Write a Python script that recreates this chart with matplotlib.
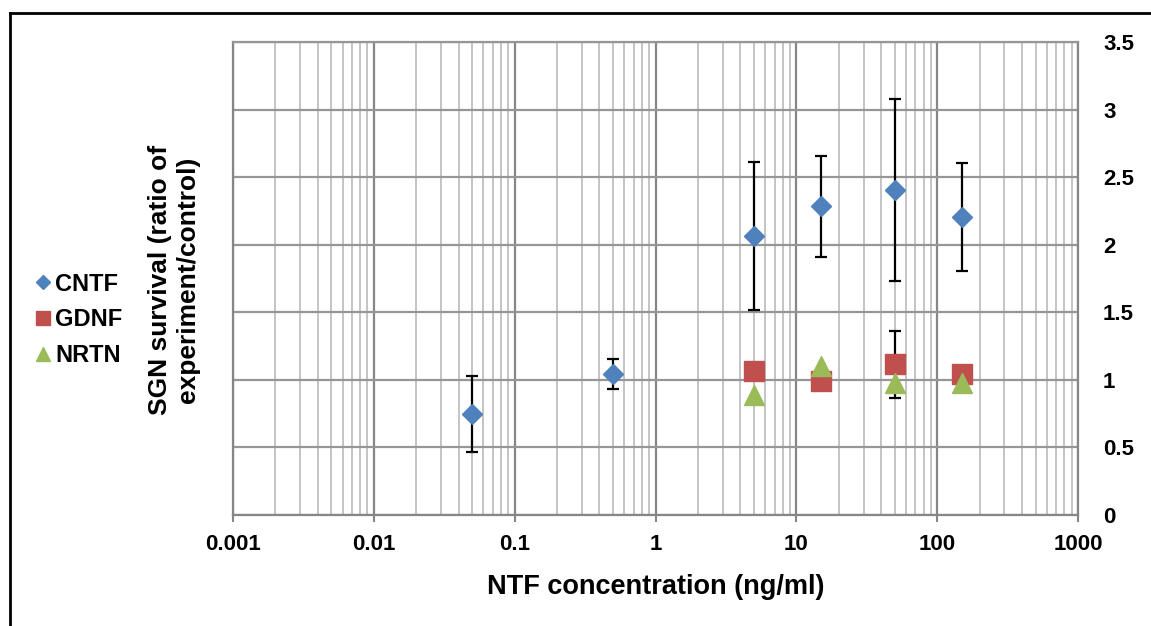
import numpy as np
from matplotlib import pyplot as plt
import matplotlib.ticker as mticker
from matplotlib.lines import Line2D

plt.rcParams['font.family'] = ['Liberation Sans', 'DejaVu Sans']
plt.rcParams['font.weight'] = 'bold'

# CNTF
x_cntf = [0.05, 0.5, 5, 15, 50, 150]
y_cntf = [0.745, 1.045, 2.065, 2.285, 2.405, 2.205]
e_cntf = [0.28, 0.11, 0.55, 0.375, 0.67, 0.40]
# GDNF
x_gdnf = [5, 15, 50, 150]
y_gdnf = [1.065, 0.99, 1.115, 1.045]
e_gdnf = [0, 0, 0.25, 0]
# NRTN
x_nrtn = [5, 15, 50, 150]
y_nrtn = [0.89, 1.105, 0.975, 0.975]

c_blue = '#4F81BD'
c_red = '#C0504D'
c_green = '#9BBB59'

fig = plt.figure(figsize=(11.51, 6.26), dpi=100)
ax = fig.add_axes([233/1151, 1-515/626, 845/1151, 473/626])

ax.set_xscale('log')
ax.set_xlim(0.001, 1000)
ax.set_ylim(0, 3.5)

# error bars under the markers
ax.errorbar(x_cntf, y_cntf, yerr=e_cntf, fmt='none', ecolor='black',
            elinewidth=1.6, capsize=4.5, capthick=1.6, zorder=3)
gx = [x for x, e in zip(x_gdnf, e_gdnf) if e > 0]
gy = [y for y, e in zip(y_gdnf, e_gdnf) if e > 0]
ge = [e for e in e_gdnf if e > 0]
ax.errorbar(gx, gy, yerr=ge, fmt='none', ecolor='black',
            elinewidth=1.6, capsize=4.5, capthick=1.6, zorder=3)

l1, = ax.plot(x_cntf, y_cntf, ls='none', marker='D', ms=10.2,
              color=c_blue, mec=c_blue, zorder=4, label='CNTF')
l2, = ax.plot(x_gdnf, y_gdnf, ls='none', marker='s', ms=14.4,
              color=c_red, mec=c_red, zorder=5, label='GDNF')
l3, = ax.plot(x_nrtn, y_nrtn, ls='none', marker='^', ms=14.4,
              color=c_green, mec=c_green, zorder=6, label='NRTN')

# grid
ax.xaxis.set_major_locator(mticker.LogLocator(base=10, numticks=10))
ax.xaxis.set_minor_locator(mticker.LogLocator(base=10, subs=np.arange(2, 10), numticks=20))
ax.xaxis.set_minor_formatter(mticker.NullFormatter())
ax.xaxis.set_major_formatter(mticker.FuncFormatter(lambda v, p: ('%g' % v)))
ax.yaxis.set_major_locator(mticker.MultipleLocator(0.5))
ax.yaxis.set_major_formatter(mticker.FuncFormatter(lambda v, p: ('%g' % v)))
ax.grid(which='major', axis='x', color='#868686', lw=1.6, zorder=0)
ax.grid(which='minor', axis='x', color='#bfbfbf', lw=1.3, zorder=0)
ax.grid(which='major', axis='y', color='#969696', lw=1.6, zorder=0)
ax.set_axisbelow(True)

for s in ax.spines.values():
    s.set_color('#868686')
    s.set_linewidth(1.6)
ax.spines['top'].set_color('#969696')

ax.yaxis.tick_right()
ax.tick_params(axis='y', which='both', length=0, pad=18, labelsize=16)
ax.tick_params(axis='x', which='major', length=5, width=1.5, color='#868686',
               pad=9, labelsize=16)
ax.tick_params(axis='x', which='minor', length=0)
for lab in ax.get_xticklabels() + ax.get_yticklabels():
    lab.set_fontweight('bold')

ax.set_xlabel('NTF concentration (ng/ml)', fontsize=19.5, fontweight='bold', labelpad=13)

fig.text(174/1151, 1-280/626, 'SGN survival (ratio of\nexperiment/control)',
         rotation=90, ha='center', va='center', multialignment='center',
         fontsize=19, fontweight='bold', linespacing=1.2)

h1 = Line2D([], [], ls='none', marker='D', ms=7.6, color=c_blue)
h2 = Line2D([], [], ls='none', marker='s', ms=10.5, color=c_red)
h3 = Line2D([], [], ls='none', marker='^', ms=10.5, color=c_green)
fig.legend([h1, h2, h3], ['CNTF', 'GDNF', 'NRTN'], loc='center left',
           bbox_to_anchor=(36/1151, 1-320/626), frameon=False,
           prop={'size': 17, 'weight': 'bold'}, handlelength=0.6,
           handletextpad=0.2, labelspacing=0.55, borderpad=0, borderaxespad=0)

# outer frame (left and top edges)
fig.add_artist(Line2D([9.5/1151, 9.5/1151], [0, 1-13/626], color='black',
                      lw=2, transform=fig.transFigure))
fig.add_artist(Line2D([9.5/1151, 1], [1-13/626, 1-13/626], color='black',
                      lw=2, transform=fig.transFigure))

plt.savefig('out.png', dpi=100)
plt.close(fig)
